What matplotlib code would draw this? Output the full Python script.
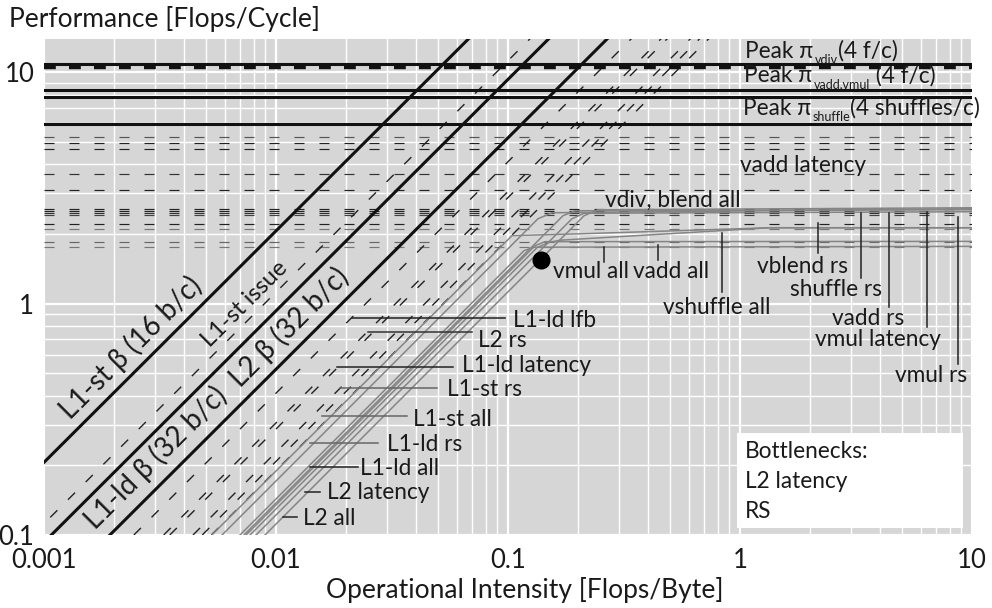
import matplotlib
matplotlib.use("Agg")

import matplotlib.pyplot as plt
from matplotlib.patches import Rectangle
from matplotlib.ticker import NullFormatter

plt.rcParams["font.family"] = ["Lato", "DejaVu Sans"]

# -----------------------------
# DATA
# -----------------------------
# peak compute roofs [flops/cycle], solid thick
peak_roofs = [10.8, 8.36, 7.83, 5.95]
# thick dashed roof on top of the vdiv peak
peak_dashed = 10.5

# bandwidth roofs [flops/cycle per flops/byte], solid thick
bw_roofs = [206, 93, 52]

# bottleneck ceilings: horizontal dashed lines
ceil_vals = [5.23, 4.93, 4.64, 3.63, 3.10, 2.57, 2.52, 2.47, 2.42,
             2.21, 2.10, 1.84, 1.755]
ceil_cols = ["#555555", "#222222", "#222222", "#333333", "#222222",
             "#222222", "#222222", "#333333", "#444444",
             "#222222", "#777777", "#666666", "#777777"]

# bottleneck bandwidths: diagonal dashed lines (first = L1-st issue)
diag_vals = [112, 41, 30.5, 28.7, 22.8, 20.8, 19.0]

# measured performance curves (gray)
curve_I = [
    [0.005853, 0.13468, 0.15473, 10],
    [0.008966, 0.21264, 0.24434, 10],
    [0.006995, 0.11722, 0.12945, 10],
    [0.007424, 0.13074, 0.14433, 10],
    [0.007725, 0.13335, 0.14870, 0.16752, 1.3468, 10],
    [0.008199, 0.18873, 0.21264, 10],
    [0.007278, 0.17258, 0.19444, 10],
    [0.00529, 0.1041, 0.20, 1.3468, 10],
]
curve_P = [
    [0.1, 2.325, 2.468, 2.568],
    [0.1, 2.395, 2.542, 2.593],
    [0.1, 1.692, 1.752, 1.766],
    [0.1, 1.778, 1.851, 1.856],
    [0.1, 1.743, 1.832, 1.878, 2.126, 2.126],
    [0.1, 2.325, 2.456, 2.493],
    [0.1, 2.395, 2.517, 2.542],
    [0.1, 1.966, 2.00, 2.126, 2.126],
]

# measured point
dot_I = [0.1384]
dot_P = [1.547]

x_ticks = [0.001, 0.01, 0.1, 1, 10]
x_tick_labels = ["0.001", "0.01", "0.1", "1", "10"]
y_ticks = [0.1, 1, 10]
y_tick_labels = ["0.1", "1", "10"]

# -----------------------------
# LABELS / LAYOUT
# -----------------------------
# peak labels: main, subscript, rest, x, baseline y
peak_labels = [
    ("Peak π", "vdiv", "(4 f/c)", 1.05, 11.5),
    ("Peak π", "vadd,vmul", " (4 f/c)", 1.04, 9.04),
    ("Peak π", "shuffle", "(4 shuffles/c)", 1.03, 6.53),
]

# rotated labels: text, x, y, size
diag_labels = [
    ("L1-st β (16 b/c)", 0.00237, 0.646, 20),
    ("L1-st issue", 0.00735, 1.0, 17),
    ("L1-ld β (32 b/c)", 0.00304, 0.2148, 20),
    ("L2 β (32 b/c)", 0.01138, 0.788, 20),
]

# left labels: text, x, baseline y, leader x0, leader x1, leader y, leader colour
left_labels = [
    ("L1-ld lfb", 0.105, 0.788, 0.0213, 0.0971, 0.870, "#222222"),
    ("L2 rs", 0.0743, 0.646, 0.0249, 0.0700, 0.757, "#333333"),
    ("L1-ld latency", 0.0634, 0.504, 0.01833, 0.0579, 0.530, "#222222"),
    ("L1-st rs", 0.0546, 0.397, 0.01889, 0.0494, 0.430, "#666666"),
    ("L1-st all", 0.0390, 0.295, 0.01578, 0.0367, 0.326, "#666666"),
    ("L1-ld rs", 0.0301, 0.230, 0.01402, 0.0275, 0.249, "#666666"),
    ("L1-ld all", 0.0230, 0.181, 0.01402, 0.02257, 0.1964, "#222222"),
    ("L2 latency", 0.0166, 0.143, 0.01334, 0.01548, 0.1532, "#222222"),
    ("L2 all", 0.01306, 0.110, 0.01072, 0.01232, 0.1196, "#222222"),
]

# right labels: text, x, baseline y, leader x, leader y0, leader y1
right_labels = [
    ("vmul all", 0.156, 1.294, 0.2594, 1.761, 1.517),
    ("vadd all", 0.346, 1.294, 0.443, 1.796, 1.548),
    ("vshuffle all", 0.466, 0.897, 0.836, 2.023, 1.127),
    ("vblend rs", 1.184, 1.360, 2.169, 2.234, 1.659),
    ("shuffle rs", 1.643, 1.083, 3.323, 2.467, 1.294),
    ("vadd rs", 2.49, 0.804, 4.387, 2.467, 0.971),
    ("vmul latency", 2.105, 0.653, 6.40, 2.492, 0.788),
    ("vmul rs", 4.66, 0.457, 8.70, 2.371, 0.546),
]
free_labels = [
    ("vdiv, blend all", 0.262, 2.619),
    ("vadd latency", 1.0, 3.71),
]

TXT = "#1a1a1a"
FS = 16.3
DASH = (7.2, 10.8)

# -----------------------------
# FIGURE
# -----------------------------
fig = plt.figure(figsize=(9.92, 6.08), dpi=100)
ax = fig.add_axes([44 / 992, 1 - 535 / 608, 928 / 992, 496 / 608])
ax.set_xscale("log")
ax.set_yscale("log")
ax.set_xlim(0.001, 10)
ax.set_ylim(0.1, 13.9)
ax.set_facecolor("#d6d6d6")
for s in ax.spines.values():
    s.set_visible(False)
ax.set_axisbelow(True)
ax.grid(True, which="major", color="white", lw=1.6)
ax.grid(True, which="minor", color="white", lw=1.0)

ax.set_xticks(x_ticks)
ax.set_xticklabels(x_tick_labels)
ax.set_yticks(y_ticks)
ax.set_yticklabels(y_tick_labels)
ax.xaxis.set_minor_formatter(NullFormatter())
ax.yaxis.set_minor_formatter(NullFormatter())
ax.tick_params(which="both", length=0, labelsize=18.5, labelcolor=TXT)
ax.tick_params(axis="x", pad=9)
ax.tick_params(axis="y", pad=7)

# dashed ceilings (thin, so the tight groups stay apart)
LW_C = 0.85
for v, c in zip(ceil_vals, ceil_cols):
    ax.axhline(v, color=c, lw=LW_C, dashes=(DASH[0] / LW_C, DASH[1] / LW_C))

# dashed bandwidth lines, started at the bottom so the dashes line up
for b in diag_vals:
    ax.plot([0.1 / b, 14.0 / b], [0.1, 14.0], color="#222222", lw=1.0,
            dashes=DASH)

# gray measured curves
for xs, ys in zip(curve_I, curve_P):
    ax.plot(xs, ys, color="#858585", lw=1.1, solid_joinstyle="round")

# solid roofs
ax.axhline(peak_dashed, color="#111111", lw=3.2,
           dashes=(8.5 / 3.2, 9.5 / 3.2))
for v in peak_roofs:
    ax.axhline(v, color="#111111", lw=2.2)
for b in bw_roofs:
    ax.plot([0.1 / b, 14.0 / b], [0.1, 14.0], color="#111111", lw=2.2)

ax.plot(dot_I, dot_P, "o", color="black", ms=12)

# labels
for main, sub, rest, x, y in peak_labels:
    t1 = ax.text(x, y, main, fontsize=FS, color=TXT, va="baseline", ha="left")
    t2 = ax.annotate(sub, xy=(1, 0), xycoords=t1, xytext=(1, -3),
                     textcoords="offset points", fontsize=9, color=TXT,
                     va="bottom", ha="left")
    ax.annotate(rest, xy=(1, 0), xycoords=(t2, t1), xytext=(0, 0),
                textcoords="offset points", fontsize=FS, color=TXT,
                va="bottom", ha="left")
for t, x, y, fs in diag_labels:
    ax.text(x, y, t, fontsize=fs, color=TXT, rotation=45,
            rotation_mode="anchor", ha="center", va="center")
for t, x, y, x0, x1, ly, lc in left_labels:
    ax.plot([x0, x1], [ly, ly], color=lc, lw=1.1)
    ax.text(x, y, t, fontsize=FS, color=TXT, va="baseline", ha="left")
for t, x, y, lx, y0, y1 in right_labels:
    ax.plot([lx, lx], [y0, y1], color="#222222", lw=1.1)
    ax.text(x, y, t, fontsize=FS, color=TXT, va="baseline", ha="left")
for t, x, y in free_labels:
    ax.text(x, y, t, fontsize=FS, color=TXT, va="baseline", ha="left")

# bottleneck box
ax.add_patch(Rectangle((0.7468, 0.0141), 0.2435, 0.1915,
                       transform=ax.transAxes, facecolor="white",
                       edgecolor="none", zorder=5))
for t, y in zip(["Bottlenecks:", "L2 latency", "RS"], [0.155, 0.0948, 0.0343]):
    ax.text(0.7554, y, t, transform=ax.transAxes, fontsize=FS, color=TXT,
            va="baseline", ha="left", zorder=6)

fig.text(9 / 992, 1 - 19 / 608, "Performance [Flops/Cycle]", fontsize=19,
         color=TXT, ha="left", va="center")
fig.text(525 / 992, 1 - 590 / 608, "Operational Intensity [Flops/Byte]",
         fontsize=19, color=TXT, ha="center", va="center")

fig.savefig("out.png", dpi=100)
